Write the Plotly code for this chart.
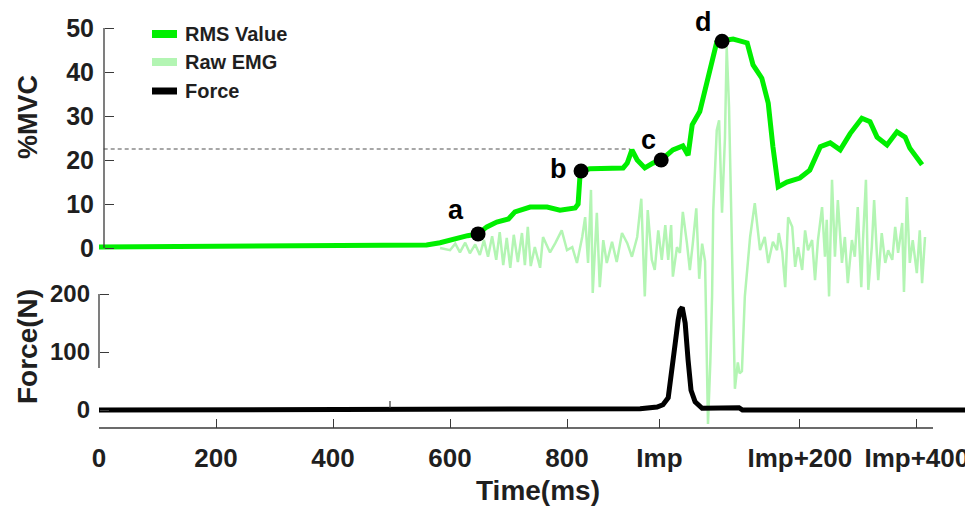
import plotly.graph_objects as go

# ---------------- data (time in ms) ----------------
rms_t = [0, 100, 200, 300, 400, 500, 560, 583, 612, 630, 648, 663, 680, 700, 711, 737,
         766, 788, 814, 819, 822, 824, 839, 870, 896, 903, 911, 920, 933, 947, 961,
         981, 998, 1007, 1014, 1027, 1036, 1048, 1056, 1065, 1084, 1108, 1118, 1133,
         1144, 1152, 1161, 1176, 1198, 1215, 1233, 1250, 1267, 1284, 1304, 1318, 1330,
         1347, 1364, 1378, 1386, 1407]
rms_v = [0.2, 0.3, 0.3, 0.4, 0.5, 0.5, 0.7, 1.2, 2.3, 2.8, 3.2, 4.8, 5.9, 6.6, 8.2, 9.3,
         9.3, 8.6, 9.1, 10.0, 16.0, 17.5, 18.0, 18.0, 18.2, 19.3, 22.3, 20.0, 18.2, 19.3, 20.0,
         22.3, 23.2, 21.1, 28.0, 31.0, 36.0, 42.7, 46.8, 47.1, 47.5, 46.6, 41.6, 38.6,
         32.9, 23.0, 13.9, 15.0, 15.9, 17.7, 23.0, 23.9, 22.3, 26.0, 29.5, 28.7, 25.2,
         23.4, 26.4, 25.2, 22.7, 18.9]

emg_t = [583, 600, 609, 617, 626, 634, 643, 651, 658, 665, 672, 679, 685, 691, 697, 703,
         709, 716, 723, 728, 733, 738, 745, 754, 759, 771, 780, 791, 800, 809, 817, 826,
         831, 836, 841, 844, 851, 856, 862, 868, 877, 885, 894, 903, 911, 920, 927, 933,
         938, 945, 950, 956, 962, 968, 973, 978, 981, 988, 993, 998, 1005, 1010, 1015,
         1021, 1026, 1031, 1036, 1041, 1045, 1048, 1050, 1056, 1060, 1065, 1070, 1073,
         1077, 1082, 1087, 1092, 1095, 1099, 1104, 1113, 1121, 1130, 1138, 1144, 1152,
         1159, 1162, 1168, 1173, 1178, 1185, 1190, 1195, 1202, 1207, 1212, 1219, 1224,
         1229, 1236, 1241, 1244, 1248, 1253, 1258, 1263, 1270, 1275, 1280, 1287, 1292,
         1297, 1303, 1306, 1311, 1315, 1321, 1325, 1332, 1338, 1344, 1349, 1356, 1361,
         1366, 1373, 1376, 1381, 1386, 1391, 1398, 1403, 1407, 1412]
emg_v = [0.0, -0.5, 1.0, -1.0, 1.2, -1.2, 0.8, -1.6, 1.8, -2.0, 2.7, -2.7, 3.6, -3.9, 2.3, -4.5,
         3.0, -3.2, 3.4, -3.9, 4.8, -4.1, 0.2, -4.5, 2.5, -1.0, 1.1, 4.0, -0.5, 0.2, -3.4, 2.5,
         7.0, -3.4, 13.2, -10.2, 8.0, -8.9, 1.8, -3.4, 1.4, -3.2, 3.4, 1.1, -2.0, 2.5, 11.2, -11.0,
         8.6, -2.7, -5.0, 4.0, -2.7, 5.2, -2.7, 5.2, -6.5, 0.2, -1.1, 8.2, 1.1, -5.0, 1.0,
         9.0, -7.0, 1.0, -3.0, -40.0, -26.0, -11.0, 8.6, 26.8, 29.0, 8.0, 25.0, 45.7,
         32.0, 1.8, -32.0, -26.0, -28.5, -28.0, -11.0, 2.5, 10.2, -0.5, 2.5, -3.4, 1.4,
         -0.5, 3.4, -0.9, -8.9, 7.0, 4.8, -4.3, 0.2, -5.0, 4.0, -0.5, 1.8, -7.3,
         1.8, 9.3, -2.0, 6.4, -11.0, 15.5, -2.0, 10.9, -3.4, 2.5, -8.0, 1.8, -2.0,
         9.3, -8.9, 1.8, 15.5, -9.5, 0.2, 10.9, -7.3, 3.4, -3.4, -0.5, -2.7, 4.8,
         -1.1, 5.7, -10.0, 11.6, -3.4, 1.8, -5.7, 4.0, -8.0, 2.5]

force_t = [0, 300, 600, 856, 925, 954, 964, 973, 980, 985, 990, 993, 997, 1002, 1007,
           1012, 1019, 1031, 1094, 1100, 1494]
force_v = [0, 0, 0, 0.5, 2, 5, 9, 21, 69, 115, 155, 172, 177, 150, 86,
           34, 14, 3, 4, 0, 0]

point_labels = ["a", "b", "c", "d"]
point_t = [648, 824, 961, 1065]
point_v = [3.2, 17.5, 20.0, 47.0]

threshold_value = 22.5
threshold_t = [8, 908]

x_tickvals = [0, 200, 400, 600, 800, 958, 1198, 1398]
x_ticktext = ["0", "200", "400", "600", "800", "Imp", "Imp+200", "Imp+400"]
mvc_ticks = [0, 10, 20, 30, 40, 50]
force_ticks = [0, 100, 200]

series_names = ["RMS Value", "Raw EMG", "Force"]
series_colors = ["#00ef00", "#b3f5b3", "#000000"]

# ---------------- geometry ----------------
# The page body has an 8px margin, so the figure is made 8px smaller and the
# plot area is placed so that it lands on screen at x 99..973, y 15..428.
BODY = 8
W, H = 973 - BODY, 508 - BODY
SCR_LEFT, SCR_TOP, SCR_BOTTOM, SCR_RIGHT = 99, 15, 428, 973
L, T = SCR_LEFT - BODY, SCR_TOP - BODY
B = H - (SCR_BOTTOM - BODY)
R = W - (SCR_RIGHT - BODY)
PW, PH = SCR_RIGHT - SCR_LEFT, SCR_BOTTOM - SCR_TOP
MS_PER_PX = 200 / 117
MVC_ZERO_PX, MVC_PX_PER = 248, 4.4
F_ZERO_PX, F_PX_PER = 410, 0.58


def xp(px):
    return (px - SCR_LEFT) / PW


def yp(py):
    return (SCR_BOTTOM - py) / PH


x_range = [0, PW * MS_PER_PX]
y_range = [(MVC_ZERO_PX - SCR_BOTTOM) / MVC_PX_PER, (MVC_ZERO_PX - SCR_TOP) / MVC_PX_PER]
y2_range = [(F_ZERO_PX - SCR_BOTTOM) / F_PX_PER, (F_ZERO_PX - SCR_TOP) / F_PX_PER]

FONT = "Liberation Sans, Arial, sans-serif"
TXT = "#1f1f1f"
AX = "#3a3a3a"

fig = go.Figure()
fig.add_trace(go.Scatter(x=emg_t, y=emg_v, mode="lines", name=series_names[1],
                         line=dict(color=series_colors[1], width=2.5), yaxis="y", showlegend=False))
fig.add_trace(go.Scatter(x=force_t, y=force_v, mode="lines", name=series_names[2],
                         line=dict(color=series_colors[2], width=5), yaxis="y2", showlegend=False))
fig.add_trace(go.Scatter(x=threshold_t, y=[threshold_value] * 2, mode="lines",
                         line=dict(color="#8a8a8a", width=1.6, dash="4px,3px"),
                         yaxis="y", showlegend=False, hoverinfo="skip"))
fig.add_trace(go.Scatter(x=rms_t, y=rms_v, mode="lines", name=series_names[0],
                         line=dict(color=series_colors[0], width=5), yaxis="y", showlegend=False))
fig.add_trace(go.Scatter(x=point_t, y=point_v, mode="markers", yaxis="y", showlegend=False,
                         marker=dict(color="black", size=15)))

shapes = []
annotations = []

# axis lines
shapes.append(dict(type="line", xref="paper", yref="y", x0=xp(104), x1=xp(104), y0=0, y1=50,
                   line=dict(color=AX, width=1.3)))
shapes.append(dict(type="line", xref="paper", yref="paper", x0=xp(99), x1=xp(99), y0=yp(294), y1=yp(368),
                   line=dict(color=AX, width=1.3)))
shapes.append(dict(type="line", xref="x", yref="paper", x0=0, x1=(933 - SCR_LEFT) * MS_PER_PX, y0=0, y1=0,
                   line=dict(color=AX, width=1.3)))
# stray tick on the force baseline
shapes.append(dict(type="line", xref="paper", yref="paper", x0=xp(390), x1=xp(390), y0=yp(408), y1=yp(401),
                   line=dict(color=AX, width=1.2)))

# point labels
label_px = [(456, 210), (558, 169), (648, 140), (703, 22)]
for lab, (px, py) in zip(point_labels, label_px):
    annotations.append(dict(text=lab, xref="paper", yref="paper", x=xp(px), y=yp(py),
                            showarrow=False, xanchor="center", yanchor="middle",
                            font=dict(family=FONT, size=27, color="black", weight="bold")))

# legend (manual)
leg_rows = [34, 62, 91]
leg_widths = [8, 8, 7]
for name, col, py, lw in zip(series_names, series_colors, leg_rows, leg_widths):
    shapes.append(dict(type="line", xref="paper", yref="paper", x0=xp(152), x1=xp(177), y0=yp(py), y1=yp(py),
                       line=dict(color=col, width=lw)))
    annotations.append(dict(text=name, xref="paper", yref="paper", x=xp(183), y=yp(py),
                            showarrow=False, xanchor="left", yanchor="middle",
                            font=dict(family=FONT, size=20, color=TXT, weight="bold")))

# axis titles
annotations.append(dict(text="%MVC", xref="paper", yref="paper", x=xp(28), y=yp(117), textangle=-90,
                        showarrow=False, xanchor="center", yanchor="middle",
                        font=dict(family=FONT, size=27, color=TXT, weight="bold")))
annotations.append(dict(text="Force(N)", xref="paper", yref="paper", x=xp(27), y=yp(347), textangle=-90,
                        showarrow=False, xanchor="center", yanchor="middle",
                        font=dict(family=FONT, size=28, color=TXT, weight="bold")))
annotations.append(dict(text="Time(ms)", xref="paper", yref="paper", x=xp(538), y=yp(490),
                        showarrow=False, xanchor="center", yanchor="middle",
                        font=dict(family=FONT, size=28, color=TXT, weight="bold")))

fig.update_layout(
    width=W, height=H,
    margin=dict(l=L, r=R, t=T, b=B, pad=0),
    paper_bgcolor="white", plot_bgcolor="white",
    showlegend=False,
    shapes=shapes, annotations=annotations,
    xaxis=dict(range=x_range, tickvals=x_tickvals, ticktext=x_ticktext, ticks="inside", ticklen=9,
               tickwidth=1.3, tickcolor=AX, showline=False, showgrid=False, zeroline=False,
               ticklabelstandoff=12,
               tickfont=dict(family=FONT, size=26, color=TXT, weight="bold")),
    yaxis=dict(range=y_range, tickvals=mvc_ticks, ticks="inside", ticklen=9, tickwidth=1.3, tickcolor=AX,
               anchor="free", position=xp(104), showline=False, showgrid=False, zeroline=False,
               ticklabelstandoff=10,
               tickfont=dict(family=FONT, size=25, color=TXT, weight="bold")),
    yaxis2=dict(range=y2_range, tickvals=force_ticks, ticks="inside", ticklen=9, tickwidth=1.3, tickcolor=AX,
                overlaying="y", side="left", anchor="free", position=0, showline=False, showgrid=False,
                zeroline=False, ticklabelstandoff=9,
                tickfont=dict(family=FONT, size=24, color=TXT, weight="bold")),
)

fig.write_html("out.html")
